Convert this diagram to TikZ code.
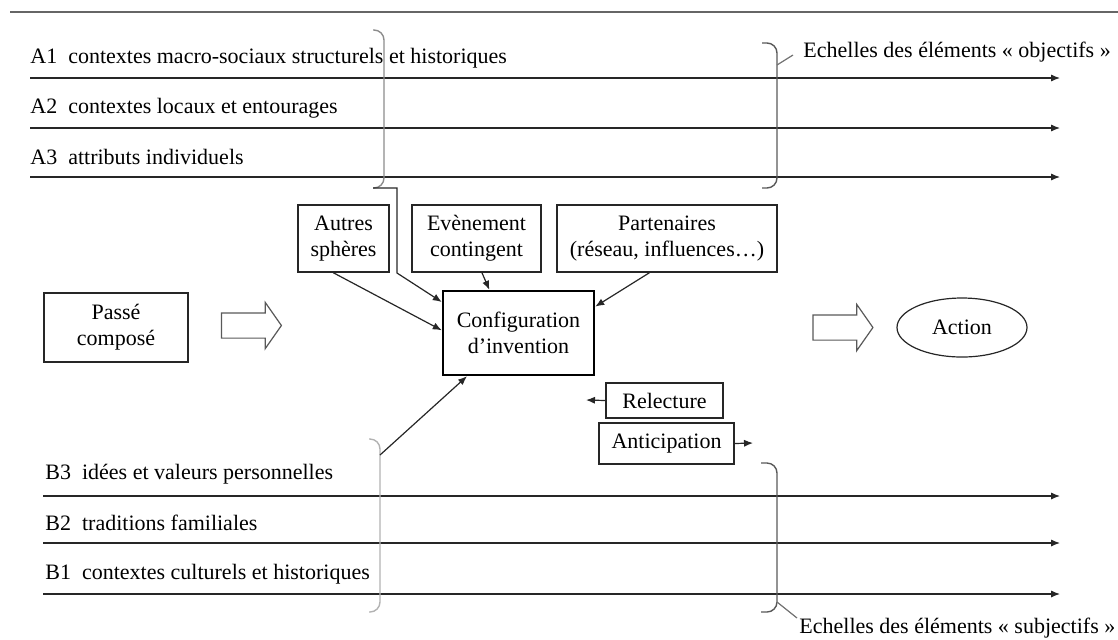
\documentclass[tikz,border=0pt]{standalone}
\usepackage{fontspec}
\setmainfont{Liberation Serif}
\usetikzlibrary{arrows.meta,shapes.geometric,shapes.arrows}

\tikzstyle{boite} = [draw=black!85, line width=0.6pt, text centered, align=center, inner sep=0]
\tikzstyle{echelle} = [anchor=west, inner sep=0]
\tikzstyle{fleche} = [-{Latex[length=4.5pt,width=3.6pt]}, black!85, line width=0.6pt]
\tikzstyle{accolade} = [rounded corners=5pt, line width=0.7pt]
\tikzstyle{grosse} = [single arrow, draw=black!65, fill=white, line width=0.6pt,
  minimum height=30pt, minimum width=0pt, single arrow head extend=5.25pt,
  single arrow tip angle=110, inner sep=0]

\begin{document}
\begin{tikzpicture}[x=0.5pt, y=-0.5pt, font=\fontsize{11}{13}\selectfont]
  \useasboundingbox (0,0) rectangle (1118,639);

  % ligne du haut
  \coordinate (h0) at (10,12);
  \coordinate (h1) at (1118,12);
  \draw[black!60, line width=0.6pt] (h0) -- (h1);

  % echelles objectives
  \node at (30,58)  [echelle] (A1) {A1\hspace{0.5em}contextes macro-sociaux structurels et historiques};
  \node at (30,108) [echelle] (A2) {A2\hspace{0.5em}contextes locaux et entourages};
  \node at (30,157) [echelle] (A3) {A3\hspace{0.5em}attributs individuels};

  \coordinate (a1g) at (30,78);  \coordinate (a1d) at (1060,78);
  \coordinate (a2g) at (30,128); \coordinate (a2d) at (1060,128);
  \coordinate (a3g) at (30,177); \coordinate (a3d) at (1060,177);

  % echelles subjectives
  \node at (45,474) [echelle] (B3) {B3\hspace{0.5em}idées et valeurs personnelles};
  \node at (45,523) [echelle] (B2) {B2\hspace{0.5em}traditions familiales};
  \node at (45,574) [echelle] (B1) {B1\hspace{0.5em}contextes culturels et historiques};

  \coordinate (b3g) at (43,496); \coordinate (b3d) at (1060,496);
  \coordinate (b2g) at (43,543); \coordinate (b2d) at (1060,543);
  \coordinate (b1g) at (43,594); \coordinate (b1d) at (1060,594);

  \path[fleche]
     (a1g) edge (a1d)
     (a2g) edge (a2d)
     (a3g) edge (a3d)
     (b3g) edge (b3d)
     (b2g) edge (b2d)
     (b1g) edge (b1d);

  % boites
  \node at (343.5,238.5) [boite, minimum width=45.5pt, minimum height=33.5pt] (autres) {Autres\\sphères};
  \node at (476.5,238.5) [boite, minimum width=64.5pt, minimum height=33.5pt] (evenement) {Evènement\\contingent};
  \node at (667,238.5)   [boite, minimum width=110pt, minimum height=33.5pt] (partenaires) {Partenaires\\(réseau, influences…)};
  \node at (518.5,333)   [boite, line width=1.2pt, draw=black, minimum width=75.5pt, minimum height=42pt] (config) {Configuration\\d’invention};
  \node at (116,327.5)   [boite, minimum width=72pt, minimum height=34.5pt] (passe) {Passé\\composé};
  \node at (664.5,400.5) [boite, minimum width=58.5pt, minimum height=17.5pt] (relecture) {Relecture};
  \node at (666.5,443.5) [boite, minimum width=67.5pt, minimum height=20.5pt] (anticipation) {Anticipation};
  \node at (962,327.5)   [ellipse, draw=black!85, line width=0.6pt, minimum width=65pt, minimum height=29.5pt, inner sep=0] (action) {Action};

  % grosses fleches
  \node at (247,325.5) [grosse] (versconfig) {\rule{0pt}{12pt}};
  \node at (838.5,327.5) [grosse] (versaction) {\rule{0pt}{12pt}};

  % accolades
  \draw[accolade, black!45] (373,30) -- (384,30) -- (384,188) -- (373,188);
  \draw[accolade, black!30] (369,439) -- (380,439) -- (380,612) -- (369,612);
  \draw[accolade, black!65] (762,43) -- (777,43) -- (777,188) -- (762,188);
  \draw[accolade, black!65] (761,463) -- (777,463) -- (777,612) -- (761,612);

  \coordinate (accA) at (373,188);
  \coordinate (coude1) at (397,188);
  \coordinate (coude2) at (397,273);
  \coordinate (accB) at (380,455);

  \coordinate (objA) at (777,65);  \coordinate (objB) at (793,55);
  \coordinate (subA) at (777,602); \coordinate (subB) at (797,618);
  \draw[black!55, line width=0.6pt] (objA) -- (objB);
  \draw[black!55, line width=0.6pt] (subA) -- (subB);

  \node at (803,52)  [echelle] (objectifs) {Echelles des éléments «~objectifs~»};
  \node at (799,628) [echelle] (subjectifs) {Echelles des éléments «~subjectifs~»};

  % liens vers la configuration
  \draw[fleche] (accA) -- (coude1) -- (coude2) -- (config.158);
  \draw[fleche] (accB) -- (config.220);

  \coordinate (rel) at (586,400);
  \coordinate (ant) at (753,443);

  \path[fleche]
     (autres.253)      edge (config.178)
     (evenement.279)   edge (config.124)
     (partenaires.243) edge (config.19)
     (relecture.west)  edge (rel)
     (anticipation.east) edge (ant);
\end{tikzpicture}
\end{document}
